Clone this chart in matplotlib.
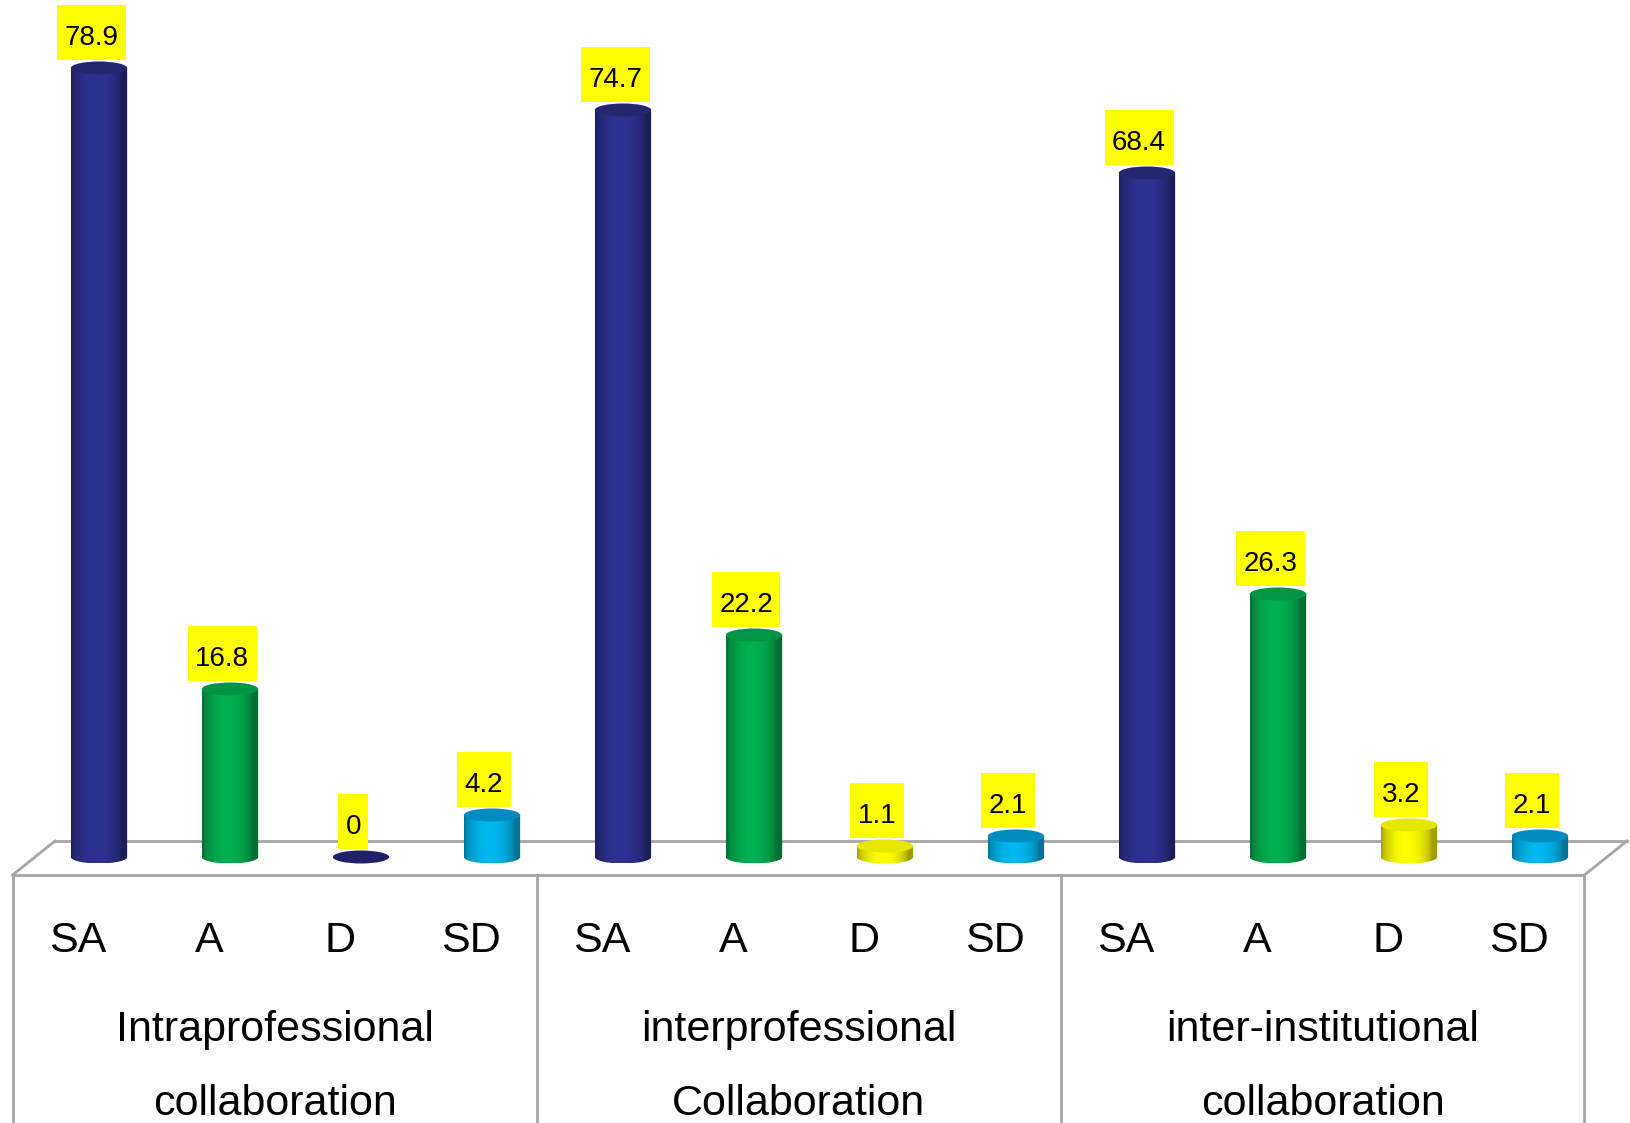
import numpy as np
import matplotlib
matplotlib.use("Agg")
import matplotlib.pyplot as plt
from matplotlib.patches import Ellipse, PathPatch
from matplotlib.path import Path
from matplotlib.colors import to_rgb

plt.rcParams["font.family"] = ["Liberation Sans", "DejaVu Sans"]

groups = ["Intraprofessional\ncollaboration",
          "interprofessional\nCollaboration",
          "inter-institutional\ncollaboration"]
levels = ["SA", "A", "D", "SD"]
sa = [78.9, 74.7, 68.4]
agree = [16.8, 22.2, 26.3]
dis = [0, 1.1, 3.2]
sd = [4.2, 2.1, 2.1]

colors = {"SA": "#2e3192", "A": "#00b050", "D": "#ffff00", "SD": "#00b8f0"}
tops = {"SA": "#24266e", "A": "#009544", "D": "#e6e600", "SD": "#008cc0"}

BAR_W = 0.43      # cylinder width, in slots
ELL_RY = 0.65     # half height of the end ellipses, in value units
FLOOR_FRONT, FLOOR_BACK = -1.8, 1.6
DEPTH_DX = 0.324
LINE = "#a6a6a6"


def label_box(x0, y0, width, height, mutation_size):
    # plain rectangle, more padding above the digits than below
    px, top, bot = 0.27 * mutation_size, 0.72 * mutation_size, 0.33 * mutation_size
    x1, y1 = x0 + width + px, y0 + height + top
    x0, y0 = x0 - px, y0 - bot
    return Path([(x0, y0), (x1, y0), (x1, y1), (x0, y1), (x0, y0)], closed=True)


def gradient(color, n=64):
    c = np.array(to_rgb(color))
    dark = c * 0.62
    light = c
    t = np.linspace(0, 1, n)
    s = np.sin(np.pi * np.clip(t / 0.9, 0, 1)) ** 0.6
    g = dark[None, :] * (1 - s[:, None]) + light[None, :] * s[:, None]
    return g[None, :, :]


def cylinder(ax, x, h, color, top):
    w = BAR_W
    if h <= 0:
        ax.add_patch(Ellipse((x, 0), w, 2 * ELL_RY, fc="#1f2068", ec="none", zorder=3))
        return
    th = np.linspace(np.pi, 2 * np.pi, 60)
    bottom = np.column_stack([x + w / 2 * np.cos(th), ELL_RY * np.sin(th)])
    sides = np.array([[x + w / 2, h], [x - w / 2, h]])
    verts = np.vstack([bottom, sides, bottom[:1]])
    clip = PathPatch(Path(verts), fc="none", ec="none", transform=ax.transData)
    ax.add_patch(clip)
    img = ax.imshow(gradient(color), extent=(x - w / 2, x + w / 2, -ELL_RY, h),
                    aspect="auto", interpolation="bicubic", zorder=3)
    img.set_clip_path(clip)
    ax.add_patch(Ellipse((x, h), w, 2 * ELL_RY, fc=top, ec="none", zorder=3.1))


fig = plt.figure(figsize=(16.31, 11.23), dpi=100)
ax = fig.add_axes([0, 0, 1, 1])
ax.axis("off")

# floor of the 3-D plot and the category table underneath
n_slots = len(groups) * len(levels)
x_left = -0.66
x_right = x_left + n_slots
ax.plot([x_left, x_right], [FLOOR_FRONT, FLOOR_FRONT], color=LINE, lw=2, zorder=1)
ax.plot([x_left + DEPTH_DX, x_right + DEPTH_DX], [FLOOR_BACK, FLOOR_BACK],
        color=LINE, lw=2, zorder=1)
for xe in (x_left, x_right):
    ax.plot([xe, xe + DEPTH_DX], [FLOOR_FRONT, FLOOR_BACK], color=LINE, lw=2, zorder=1)
for k in range(len(groups) + 1):
    xe = x_left + k * len(levels)
    ax.plot([xe, xe], [FLOOR_FRONT, -40], color=LINE, lw=2, zorder=1)

series = [sa, agree, dis, sd]
for g, name in enumerate(groups):
    for j, lvl in enumerate(levels):
        slot = g * len(levels) + j
        v = series[j][g]
        cylinder(ax, slot, v, colors[lvl], tops[lvl])
        ax.text(slot - 0.06, v + 2.3, f"{v:g}", ha="center", va="baseline",
                fontsize=20, zorder=5,
                bbox=dict(boxstyle=label_box, fc="#ffff00", ec="none"))
        ax.text(slot - 0.16, -9.5, lvl, ha="center", va="baseline", fontsize=31)
    cx = x_left + g * len(levels) + len(levels) / 2
    for i, line in enumerate(name.split("\n")):
        ax.text(cx, -18.4 - 7.4 * i, line, ha="center", va="baseline", fontsize=31)

ax.set_xlim(-0.7557, 11.695)
ax.set_ylim(-26.6, 85.7)

fig.savefig("out.png", dpi=100)
plt.close(fig)
